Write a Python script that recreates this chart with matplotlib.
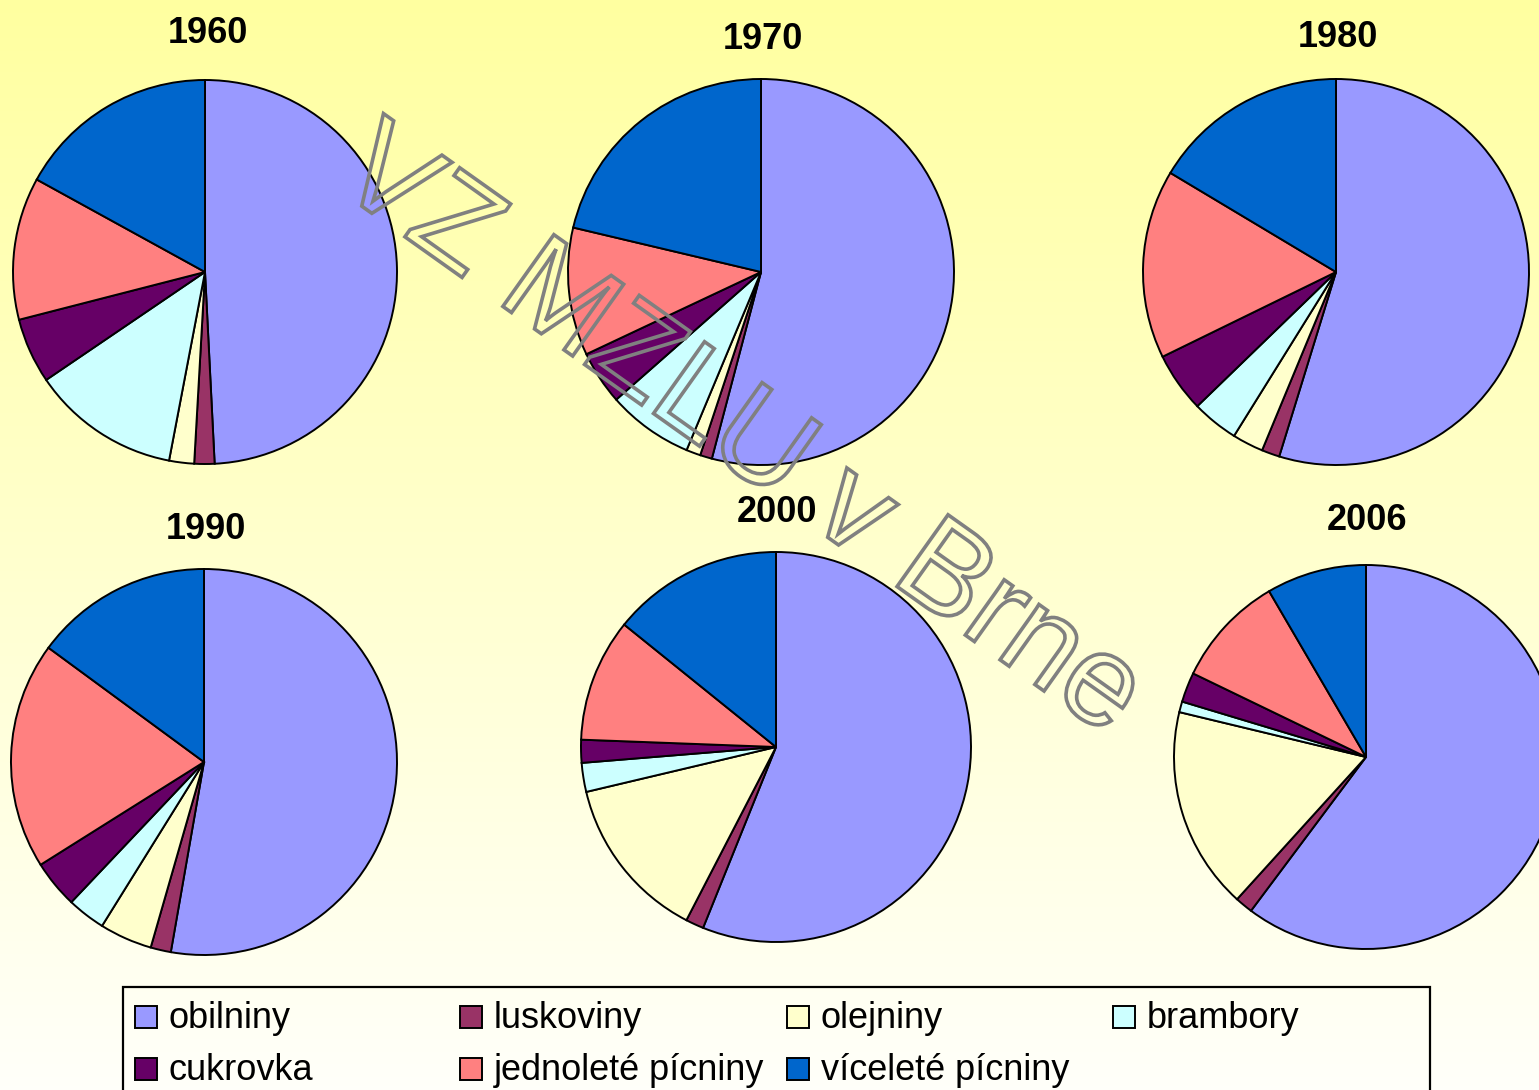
import numpy as np
import matplotlib.pyplot as plt
from matplotlib.patches import Rectangle, PathPatch
from matplotlib.textpath import TextPath
from matplotlib.font_manager import FontProperties
from matplotlib.transforms import Affine2D

categories = ["obilniny", "luskoviny", "olejniny", "brambory",
              "cukrovka", "jednoleté pícniny", "víceleté pícniny"]
colors = ["#9999FF", "#993366", "#FFFFCC", "#CCFFFF",
          "#660066", "#FF8080", "#0066CC"]
years = ["1960", "1970", "1980", "1990", "2000", "2006"]

# shares in %
share_1960 = [49.2, 1.7, 2.1, 12.5, 5.5, 12.0, 17.0]
share_1970 = [54.1, 1.0, 1.2, 7.2, 4.5, 10.7, 21.3]
share_1980 = [54.7, 1.5, 2.6, 3.9, 5.0, 15.8, 16.4]
share_1990 = [52.7, 1.7, 4.4, 3.2, 4.0, 19.0, 14.9]
share_2000 = [56.1, 1.5, 13.7, 2.4, 1.9, 10.2, 14.2]
share_2006 = [60.1, 1.5, 17.0, 0.9, 2.5, 9.4, 8.4]
shares = [share_1960, share_1970, share_1980, share_1990, share_2000, share_2006]

W, H = 1539, 1090
plt.rcParams['font.family'] = ['Liberation Sans', 'DejaVu Sans']

# pie centre x, y and radius in pixels (y from top), title baseline
pie_pos = [(205, 272, 192), (761, 272, 193), (1336, 272, 193),
           (204, 762, 193), (776, 747, 195), (1366, 757, 192)]
title_pos = [(208, 43), (763, 49), (1338, 47),
             (206, 539), (777, 522), (1367, 530)]


def main():
    fig = plt.figure(figsize=(W / 100, H / 100), dpi=100)

    # yellow -> white background
    bg = fig.add_axes([0, 0, 1, 1])
    top = np.array([255, 255, 160]) / 255
    bottom = np.array([255, 255, 250]) / 255
    t = np.linspace(0, 1, 256)[:, None, None]
    bg.imshow(top + (bottom - top) * t, aspect='auto', extent=[0, 1, 0, 1])
    bg.axis('off')

    for year, vals, (cx, cy, r), (tx, ty) in zip(years, shares, pie_pos, title_pos):
        ax = fig.add_axes([(cx - 1.25 * r) / W, (H - cy - 1.25 * r) / H,
                           2.5 * r / W, 2.5 * r / H])
        ax.pie(vals, colors=colors, startangle=90, counterclock=False,
               wedgeprops=dict(edgecolor='black', linewidth=1.4))
        fig.text(tx / W, 1 - ty / H, year, ha='center', va='baseline',
                 fontsize=26, fontweight='bold')

    ov = fig.add_axes([0, 0, 1, 1])
    ov.set_xlim(0, W)
    ov.set_ylim(0, H)
    ov.axis('off')

    # watermark
    tp = TextPath((0, 0), "VZ MZLU v Brne", size=128,
                  prop=FontProperties(family='Liberation Sans'))
    path = Affine2D().rotate_deg(-35.4).translate(332, H - 185).transform_path(tp)
    ov.add_patch(PathPatch(path, facecolor='none', edgecolor='#808080', lw=2.6))

    # legend
    ov.add_patch(Rectangle((123, H - 1110), 1430 - 123, 1110 - 987,
                           facecolor='none', edgecolor='black', lw=1.6))
    col_x = [135, 460, 787, 1113]
    row_y = [1017, 1069]
    for i, (name, c) in enumerate(zip(categories, colors)):
        x = col_x[i % 4]
        y = row_y[i // 4]
        ov.add_patch(Rectangle((x, H - y - 11), 22, 22, facecolor=c,
                               edgecolor='black', lw=1.4))
        ov.text(x + 34, H - y - 2, name, va='center', fontsize=26)

    fig.savefig('out.png', dpi=100)


if __name__ == '__main__':
    main()
